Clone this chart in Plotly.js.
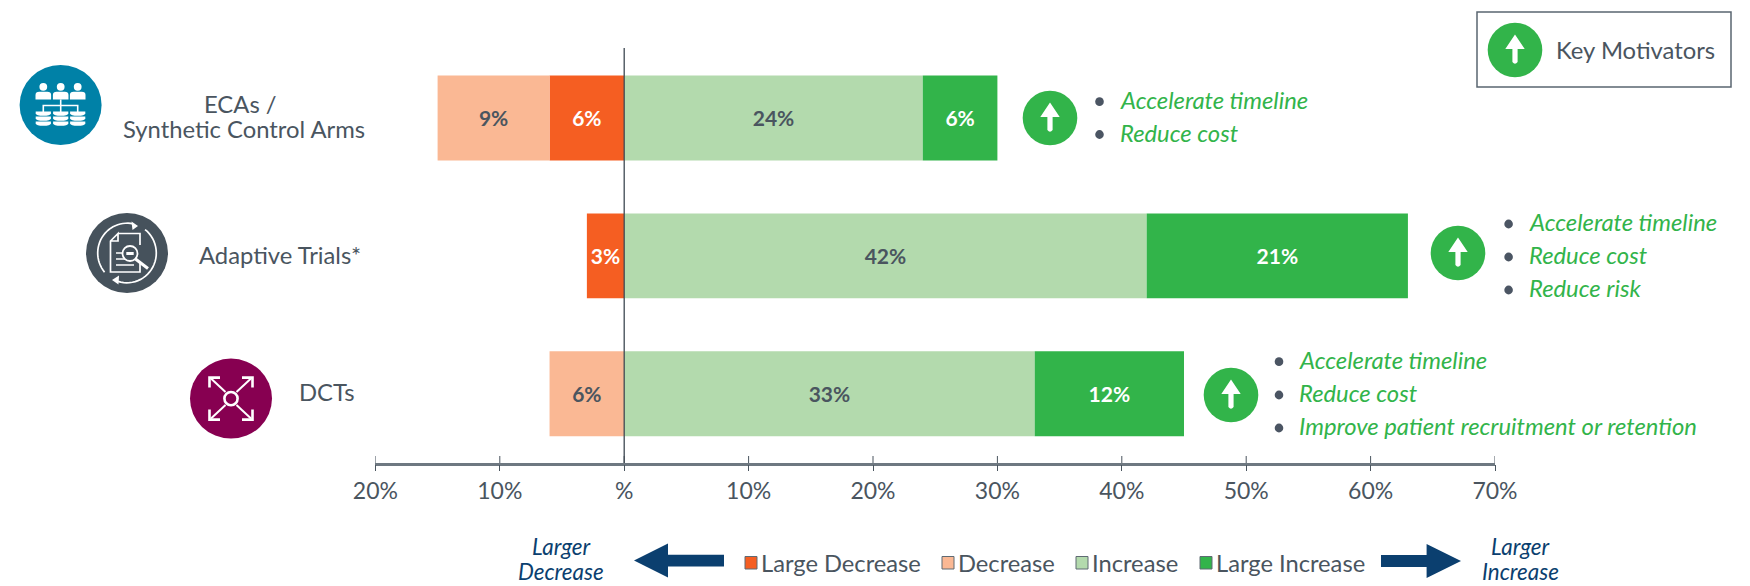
<!DOCTYPE html>
<html>
<head>
<meta charset="utf-8">
<script src="https://cdn.plot.ly/plotly-3.0.1.min.js"></script>
<style>html,body{margin:0;padding:0;background:#fff}#chart{width:1750px;height:586px}</style>
</head>
<body>
<div id="chart"></div>
<script>
// ---------- data ----------
const categories = ["ECAs", "Adaptive", "DCTs"];
const categoryLabels = [["ECAs /", "Synthetic Control Arms"], ["Adaptive Trials*"], ["DCTs"]];
const seriesNames = ["Large Decrease", "Decrease", "Increase", "Large Increase"];
const largeDecrease = [-6, -3, null];
const decrease = [-9, null, -6];
const increase = [24, 42, 33];
const largeIncrease = [6, 21, 12];
const tickValues = [-20, -10, 0, 10, 20, 30, 40, 50, 60, 70];
const tickLabels = ["20%", "10%", "%", "10%", "20%", "30%", "40%", "50%", "60%", "70%"];
const motivators = [
  ["Accelerate timeline", "Reduce cost"],
  ["Accelerate timeline", "Reduce cost", "Reduce risk"],
  ["Accelerate timeline", "Reduce cost", "Improve patient recruitment or retention"]
];
const keyTitle = "Key Motivators";
const leftNote = ["Larger", "Decrease"];
const rightNote = ["Larger", "Increase"];

// ---------- styles ----------
const W = 1750, H = 586;
const FONT = "Lato, 'Open Sans', sans-serif";
const INK = "#4A555F";
const GREEN = "#32B44A";
const NAVY = "#0B3F6F";
const WHITE = "#FFFFFF";
const seriesColors = ["#F55E22", "#FAB894", "#B3DAAD", "#32B44A"];
const labelColors = [WHITE, INK, INK, WHITE];

// pixel -> paper helpers (margins are zero, so paper == page)
const PX = x => x / W;
const PY = y => 1 - y / H;
const P = d => d.replace(/(-?[\d.]+)[ ,](-?[\d.]+)/g, (m, a, b) => PX(+a).toFixed(5) + " " + PY(+b).toFixed(5));

const shapes = [];
const annotations = [];
const fillPath = (d, color) => shapes.push({type: "path", xref: "paper", yref: "paper", path: P(d), fillcolor: color, line: {width: 0}, layer: "above"});
const linePath = (d, color, w) => shapes.push({type: "path", xref: "paper", yref: "paper", path: P(d), line: {color: color, width: w}, fillcolor: "rgba(0,0,0,0)", layer: "above"});
const ellipse = (cx, cy, rx, ry, color, stroke, sw) => shapes.push({
  type: "circle", xref: "paper", yref: "paper", x0: PX(cx - rx), x1: PX(cx + rx), y0: PY(cy + ry), y1: PY(cy - ry),
  fillcolor: color, line: stroke ? {color: stroke, width: sw} : {width: 0}, layer: "above"
});
const rect = (x0, y0, x1, y1, color, stroke, sw) => shapes.push({
  type: "rect", xref: "paper", yref: "paper", x0: PX(x0), x1: PX(x1), y0: PY(y1), y1: PY(y0),
  fillcolor: color, line: stroke ? {color: stroke, width: sw} : {width: 0}, layer: "above"
});
const text = (s, x, y, size, color, anchor, italic) => annotations.push({
  text: s, xref: "paper", yref: "paper", x: PX(x), y: PY(y), xanchor: anchor, yanchor: "middle", showarrow: false,
  align: anchor === "left" ? "left" : "center",
  font: {family: FONT, size: size, color: color, style: italic ? "italic" : "normal"}
});
const arc = (cx, cy, rx, ry, a0, a1) => {
  let d = "";
  const n = 28;
  for (let i = 0; i <= n; i++) {
    const t = (a0 + (a1 - a0) * i / n) * Math.PI / 180;
    d += (i ? "L" : "M") + (cx + rx * Math.cos(t)).toFixed(2) + " " + (cy + ry * Math.sin(t)).toFixed(2) + " ";
  }
  return d;
};

// up-arrow badge
function badge(cx, cy) {
  ellipse(cx, cy, 27.3, 27.3, GREEN);
  fillPath(`M${cx} ${cy - 15.5} L${cx + 9.7} ${cy - 1} L${cx + 2.6} ${cy - 1} L${cx + 2.6} ${cy + 12} Q${cx} ${cy + 15.5} ${cx - 2.6} ${cy + 12} L${cx - 2.6} ${cy - 1} L${cx - 9.7} ${cy - 1} Z`, WHITE);
}

// category icons
function iconECA() {
  ellipse(60.6, 105, 41, 40, "#0081A7");
  linePath("M60.7 99.5 L60.7 112", WHITE, 1.6);
  linePath("M43.3 112 L43.3 105.5 L77.7 105.5 L77.7 112", WHITE, 1.6);
  [43.3, 60.7, 77.7].forEach(x => {
    ellipse(x, 86.8, 3.9, 3.9, WHITE);
    fillPath(`M${x - 7.8} 99.5 L${x - 7.8} 95 Q${x - 7.8} 91.8 ${x - 4} 91.8 L${x + 4} 91.8 Q${x + 7.8} 91.8 ${x + 7.8} 95 L${x + 7.8} 99.5 Z`, WHITE);
    [111.6, 116.6, 121.6].forEach(y => {
      fillPath(`M${x - 7.6} ${y} L${x + 7.6} ${y} L${x + 7.6} ${y + 1.8} Q${x + 7} ${y + 4.2} ${x} ${y + 4.2} Q${x - 7} ${y + 4.2} ${x - 7.6} ${y + 1.8} Z`, WHITE);
    });
  });
}
function iconAdaptive() {
  const cx = 127, cy = 253;
  ellipse(cx, cy, 41, 40, "#46525C");
  linePath(arc(cx, cy, 29.3, 29.8, 140, 282), WHITE, 1.7);
  linePath(arc(cx, cy, 29.3, 29.8, -52, 108), WHITE, 1.7);
  fillPath("M138 226 L131.5 221.5 L132.5 230 Z", WHITE);
  fillPath("M112 280 L119 275.5 L118.5 284.5 Z", WHITE);
  linePath("M118 233.5 L140 233.5 L140 245 M140 262 L140 272 L110.5 272 L110.5 241 L118 233.5 L118 241 L110.5 241", WHITE, 1.7);
  linePath("M116 253 L122 253 M116 259 L126 259 M116 265 L134 265", WHITE, 1.3);
  ellipse(130, 253.5, 7.5, 7.5, "#46525C", WHITE, 1.8);
  fillPath("M126.3 252 L133.7 252 L133.7 255 L126.3 255 Z", WHITE);
  linePath("M135.5 259 L148 268.5", WHITE, 3);
}
function iconDCT() {
  const cx = 231, cy = 398.6;
  ellipse(cx, cy, 41, 40, "#870051");
  ellipse(cx, cy, 6.6, 6.6, "#870051", WHITE, 2.6);
  [[-1, -1], [1, -1], [-1, 1], [1, 1]].forEach(([sx, sy]) => {
    const a = s => cx + sx * s, b = s => cy + sy * s;
    linePath(`M${a(5.5)} ${b(6.5)} L${a(20)} ${b(20)}`, WHITE, 2);
    linePath(`M${a(21.5)} ${b(11)} L${a(21.5)} ${b(21)} L${a(11)} ${b(21)}`, WHITE, 2.6);
  });
}
iconECA(); iconAdaptive(); iconDCT();

// category names (y comes from the category axis)
const nameCentres = [[241, 244.4], [279.6], [326.5]];
const nameShifts = [[14, -11.5], [1], [2]];
categoryLabels.forEach((lines, i) => lines.forEach((s, j) => annotations.push({
  text: s, xref: "paper", yref: "y", x: PX(nameCentres[i][j]), y: categories[i],
  xanchor: "center", yanchor: "middle", showarrow: false, align: "center",
  yshift: nameShifts[i][j],
  font: {family: FONT, size: 23.8, color: INK}
})));

// key motivators
const badges = [[1050, 118], [1458, 253], [1231, 395]];
const bulletX = [1099.5, 1508.6, 1279];
const bulletY = [[101.7, 134.5], [224, 257, 290], [361.7, 395, 428]];
motivators.forEach((list, i) => {
  badge(badges[i][0], badges[i][1]);
  list.forEach((m, j) => {
    ellipse(bulletX[i], bulletY[i][j], 4.3, 4.4, "#4B5563");
    text(m, bulletX[i] + 18, bulletY[i][j] - 1.6, 23.8, GREEN, "left", true);
  });
});

// key box
rect(1477, 12, 1731, 87, "rgba(0,0,0,0)", "#5A6570", 1.5);
badge(1515, 50);
text(keyTitle, 1554, 50, 23.8, INK, "left");

// legend
const legendSwatch = [745, 942, 1076, 1200];
const legendText = [759, 956, 1090, 1214];
seriesNames.forEach((s, i) => {
  rect(legendSwatch[i], 556.5, legendSwatch[i] + 12, 569, seriesColors[i], "#5F6A73", 1);
  text(s, legendText[i], 563, 23.7, INK, "left");
});

// direction arrows
fillPath("M634 560.5 L668 543.5 L668 554.8 L724 554.8 L724 566.5 L668 566.5 L668 577.5 Z", NAVY);
fillPath("M1461 561 L1426.6 544 L1426.6 555 L1381 555 L1381 567 L1426.6 567 L1426.6 578 Z", NAVY);
leftNote.forEach((s, j) => text(s, 561, j ? 571.5 : 546, 22.4, NAVY, "center", true));
rightNote.forEach((s, j) => text(s, 1520, j ? 571.5 : 546, 22.4, NAVY, "center", true));

// bars
const series = [largeDecrease, decrease, increase, largeIncrease];
const traces = series.map((vals, i) => ({
  type: "bar", orientation: "h", name: seriesNames[i], y: categories, x: vals,
  marker: {color: seriesColors[i], line: {width: 0}},
  text: vals.map(v => v === null ? "" : Math.abs(v) + "%"),
  textposition: "inside", insidetextanchor: "middle", textangle: 0, constraintext: "none",
  insidetextfont: {family: FONT, size: 21, color: labelColors[i], weight: 700},
  cliponaxis: false, hoverinfo: "name+text"
}));

const layout = {
  width: W, height: H,
  margin: {l: 0, r: 0, t: 0, b: 0, pad: 0},
  paper_bgcolor: WHITE, plot_bgcolor: WHITE,
  barmode: "relative", bargap: 0.384,
  showlegend: false,
  font: {family: FONT, color: INK},
  xaxis: {
    domain: [375.4 / W, 1495 / W], range: [-20, 70], tickmode: "array",
    tickvals: tickValues, ticktext: tickLabels,
    tickfont: {family: FONT, size: 23, color: INK},
    showgrid: false, zeroline: false,
    showline: true, linecolor: "#6E7881", linewidth: 2.5,
    ticks: "outside", ticklen: 6, tickwidth: 1, tickcolor: INK, fixedrange: true
  },
  yaxis: {
    domain: [1 - 462.7 / H, 1 - 49 / H], type: "category", categoryorder: "array",
    categoryarray: categories.slice().reverse(), showticklabels: false, showgrid: false,
    zeroline: false, showline: false, ticks: "", fixedrange: true
  },
  shapes: shapes,
  annotations: annotations
};
// upper half of the axis ticks, placed at the axis values
tickValues.forEach(v => layout.shapes.push({
  type: "line", xref: "x", yref: "paper", x0: v, x1: v, y0: PY(463), y1: PY(456),
  line: {color: INK, width: 1}, layer: "above"
}));
// vertical reference line at zero
layout.shapes.push({
  type: "line", xref: "x", yref: "paper", x0: 0, x1: 0, y0: PY(463), y1: PY(48),
  line: {color: "#3E4852", width: 1.3}, layer: "above"
});

Plotly.newPlot("chart", traces, layout, {displayModeBar: false, responsive: false});
</script>
</body>
</html>
